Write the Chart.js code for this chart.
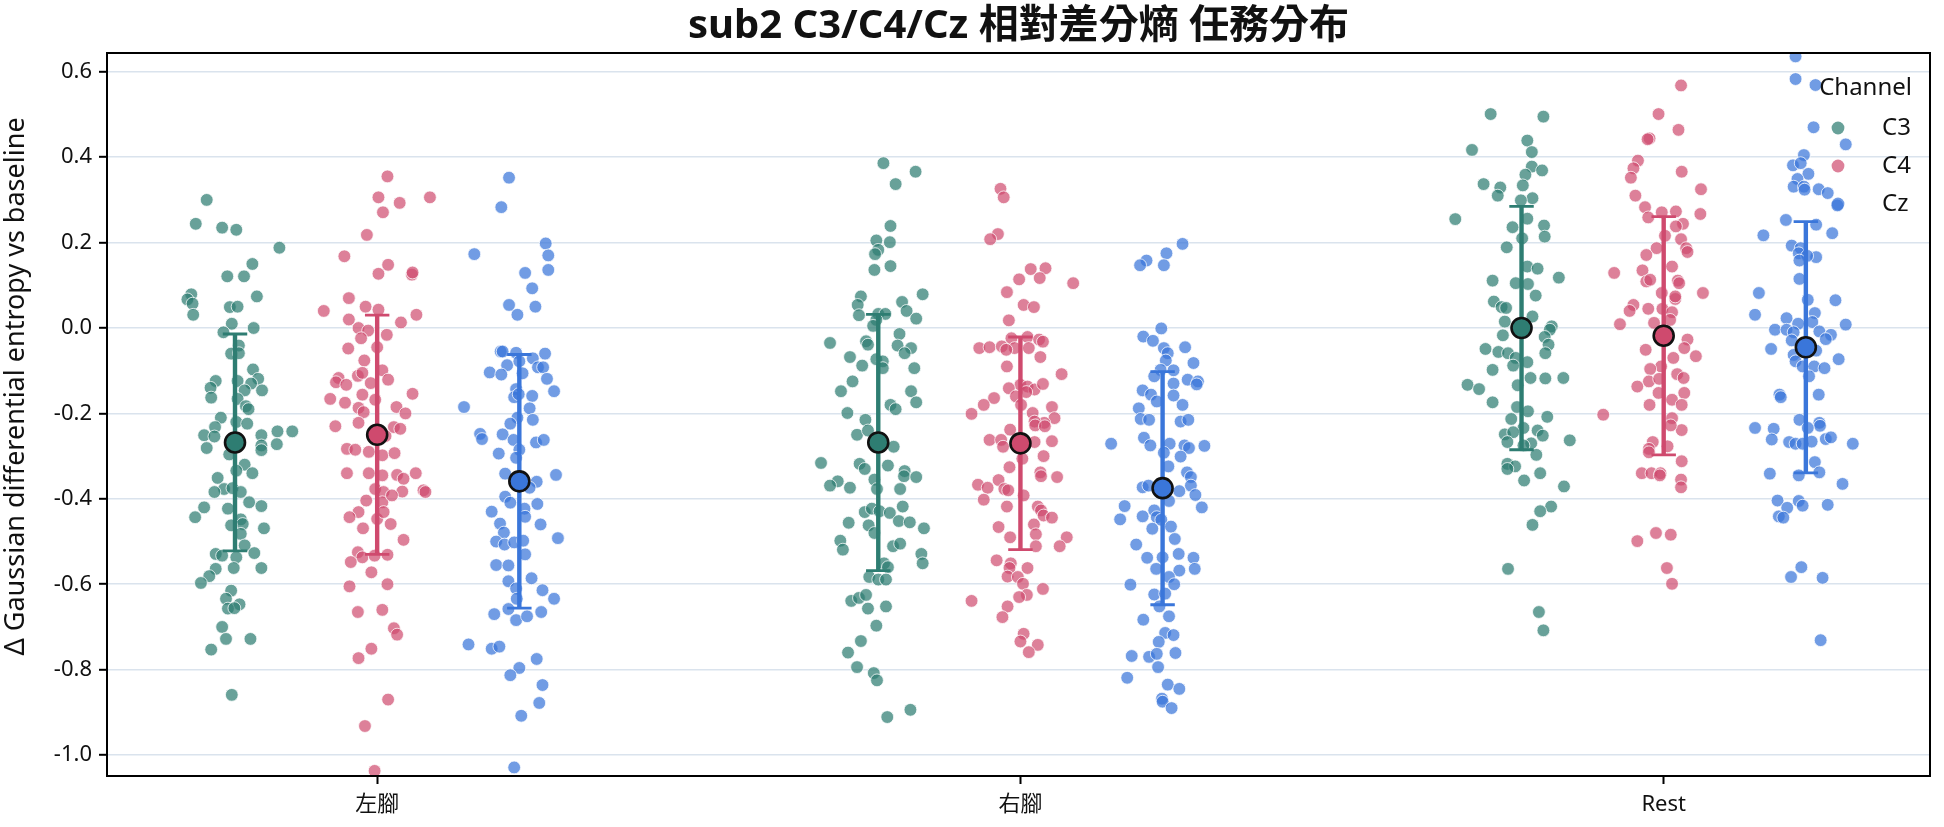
<!DOCTYPE html>
<html>
<head>
<meta charset="utf-8">
<script src="https://cdn.jsdelivr.net/npm/chart.js@4.4.1/dist/chart.umd.min.js"></script>
<style>
    html, body { margin: 0; padding: 0; background: #fff; }
    #wrap { width: 1944px; height: 827px; }
</style>
</head>
<body>
<div id="wrap"><canvas id="Strip" width="1944" height="827"></canvas></div>
<script>
const categories = ["左腳", "右腳", "Rest"]; // Eje X
const channels = ["C3", "C4", "Cz"];
const yTicks = [-1.0, -0.8, -0.6, -0.4, -0.2, 0.0, 0.2, 0.4, 0.6];
const title = "sub2 C3/C4/Cz 相對差分熵 任務分布";
const yLabel = "Δ Gaussian differential entropy vs baseline";

// media y desviación estándar por categoría (左腳, 右腳, Rest)
const meanC3 = [-0.268, -0.268, 0.000];
const sdC3 = [0.254, 0.300, 0.285];
const meanC4 = [-0.250, -0.270, -0.018];
const sdC4 = [0.280, 0.249, 0.279];
const meanCz = [-0.359, -0.375, -0.045];
const sdCz = [0.297, 0.273, 0.294];

// puntos: [jitter, valor]
const ptsLeftC3 = [[-0.044,0.30],[-0.061,0.244],[-0.020,0.235],[0.002,0.23],[0.069,0.188],[0.027,0.15],[-0.012,0.121],[0.014,0.121],[0.034,0.074],[-0.068,0.079],[-0.074,0.067],[-0.066,0.057],[-0.065,0.031],[-0.008,0.049],[0.004,0.05],[-0.005,0.01],[0.029,0.0],[-0.018,-0.01],[0.006,-0.041],[-0.006,-0.06],[0.006,-0.059],[0.028,-0.097],[0.036,-0.119],[-0.03,-0.124],[0.004,-0.124],[-0.038,-0.14],[0.025,-0.13],[0.015,-0.146],[0.042,-0.146],[-0.037,-0.163],[0.004,-0.166],[0.017,-0.183],[0.021,-0.19],[-0.022,-0.21],[0.002,-0.22],[0.019,-0.224],[-0.031,-0.232],[-0.048,-0.251],[-0.032,-0.254],[0.041,-0.251],[0.066,-0.242],[0.089,-0.242],[-0.044,-0.281],[-0.009,-0.296],[0.041,-0.275],[0.065,-0.272],[0.041,-0.286],[0.015,-0.32],
    [0.002,-0.334],[0.027,-0.34],[-0.027,-0.351],[-0.017,-0.377],[-0.004,-0.375],[-0.032,-0.384],[0.009,-0.384],[0.022,-0.408],[0.041,-0.417],[-0.048,-0.42],[-0.062,-0.443],[-0.011,-0.423],[0.009,-0.448],[0.012,-0.459],[-0.006,-0.462],[0.045,-0.469],[0.009,-0.482],[0.015,-0.509],[-0.03,-0.529],[-0.02,-0.533],[0.002,-0.537],[0.03,-0.527],[-0.03,-0.564],[-0.002,-0.562],[0.041,-0.562],[-0.04,-0.581],[-0.053,-0.597],[-0.006,-0.615],[-0.014,-0.634],[0.007,-0.647],[-0.011,-0.657],[-0.001,-0.656],[-0.02,-0.7],[-0.014,-0.728],[0.024,-0.728],[-0.037,-0.753],[-0.005,-0.859]];
const ptsRightC3 = [[0.008,0.386],[0.058,0.366],[0.027,0.337],[0.019,0.239],[-0.003,0.205],[0.018,0.201],[0,0.183],[-0.005,0.173],[-0.006,0.136],[0.019,0.145],[-0.027,0.074],[-0.032,0.054],[0.069,0.079],[0.037,0.061],[-0.03,0.03],[0.044,0.04],[0.059,0.022],[0,0.033],[0.011,0.033],[-0.003,0.019],[-0.008,0.005],[0.033,-0.014],[-0.075,-0.035],[-0.019,-0.031],[-0.016,-0.039],[0.03,-0.041],[0.051,-0.047],[0.041,-0.059],[-0.044,-0.068],[-0.003,-0.073],[0.007,-0.078],[-0.025,-0.088],[0.007,-0.094],[0.056,-0.094],[-0.04,-0.125],[-0.058,-0.148],[0.051,-0.148],[0.059,-0.174],[0.019,-0.18],[0.027,-0.19],[-0.048,-0.199],[-0.02,-0.215],
    [-0.033,-0.25],[-0.016,-0.24],[0.024,-0.278],[-0.089,-0.316],[-0.029,-0.318],[-0.021,-0.33],[0.015,-0.322],[0.041,-0.335],[0.04,-0.347],[0.059,-0.349],[-0.063,-0.359],[-0.075,-0.369],[-0.044,-0.374],[-0.006,-0.355],[-0.002,-0.377],[0.034,-0.377],[0.038,-0.418],[-0.021,-0.431],[-0.01,-0.423],[0.002,-0.429],[0.018,-0.433],[-0.046,-0.456],[-0.015,-0.462],[0.032,-0.452],[0.049,-0.455],[0.071,-0.469],[-0.006,-0.48],[-0.059,-0.498],[-0.055,-0.519],[0.023,-0.511],[0.034,-0.505],[0.067,-0.529],[0.069,-0.551],[0.009,-0.551],[0.015,-0.56],[-0.014,-0.583],[0,-0.589],[0.012,-0.589],[-0.042,-0.639],[-0.03,-0.632],[-0.019,-0.625],[-0.016,-0.657],[0.012,-0.652],[-0.003,-0.697],[-0.027,-0.733],[-0.047,-0.76],[-0.033,-0.794],[-0.007,-0.808],[-0.002,-0.825],[0.05,-0.894],[0.014,-0.911]];
const ptsRestC3 = [[-0.048,0.501],[0.034,0.495],[0.009,0.439],[-0.077,0.417],[0.016,0.412],[0.016,0.378],[0.032,0.369],[0.006,0.359],[-0.059,0.337],[-0.033,0.329],[-0.037,0.31],[0.002,0.334],[0.017,0.304],[-0.001,0.299],[-0.103,0.255],[0.009,0.256],[-0.014,0.236],[0.035,0.24],[0.001,0.21],[0.036,0.214],[-0.023,0.189],[0.009,0.144],[0.025,0.139],[-0.045,0.111],[-0.009,0.105],[0.01,0.103],[0.058,0.118],[0.022,0.076],[-0.043,0.062],[-0.031,0.049],[-0.024,0.047],[0.017,0.027],[-0.026,0.015],[0.047,0.004],[0.044,-0.004],[-0.029,-0.017],[0.036,-0.021],[0.042,-0.039],[-0.056,-0.049],[-0.036,-0.056],[-0.021,-0.059],[0.037,-0.059],[-0.009,-0.07],[0.009,-0.08],[-0.013,-0.088],[-0.045,-0.098],[0.014,-0.117],[0.037,-0.118],[0.065,-0.117],[-0.084,-0.133],[-0.066,-0.143],[-0.006,-0.134],[-0.045,-0.174],[-0.007,-0.185],[0.01,-0.195],[-0.016,-0.213],[0.04,-0.208],
    [0.003,-0.234],[-0.026,-0.249],[-0.013,-0.244],[0.025,-0.24],[0.033,-0.252],[-0.022,-0.267],[0.015,-0.27],[0.075,-0.263],[0.003,-0.275],[0.023,-0.297],[-0.022,-0.318],[-0.01,-0.324],[-0.022,-0.33],[0.029,-0.34],[0.004,-0.357],[0.066,-0.371],[0.046,-0.418],[0.029,-0.429],[0.017,-0.461],[-0.021,-0.564],[0.027,-0.665],[0.034,-0.708]];

const ptsLeftC4 = [[0.016,0.355],[0.002,0.306],[0.035,0.293],[0.082,0.306],[0.009,0.271],[-0.016,0.218],[-0.051,0.168],[0.017,0.148],[0.002,0.127],[0.054,0.125],[0.055,0.13],[-0.044,0.07],[-0.018,0.05],[0.002,0.043],[-0.083,0.04],[0.061,0.031],[-0.044,0.02],[0.037,0.013],[-0.029,0.0],[-0.014,-0.006],[-0.025,-0.024],[0.015,-0.016],[-0.045,-0.048],[0,-0.045],[-0.02,-0.076],[-0.06,-0.117],[-0.064,-0.127],[-0.048,-0.133],[-0.03,-0.112],[-0.023,-0.105],[0.008,-0.099],[0.017,-0.121],[-0.01,-0.129],[-0.023,-0.156],[-0.003,-0.168],[0.055,-0.154],[-0.073,-0.166],[-0.05,-0.175],[-0.029,-0.187],[-0.021,-0.197],[0.03,-0.185],[0.044,-0.2],[-0.029,-0.222],[-0.065,-0.23],[0.026,-0.232],[0.036,-0.236],[0.013,-0.253],[-0.047,-0.283],[-0.034,-0.285],[-0.013,-0.29],[0.008,-0.298],[0.027,-0.293],[-0.047,-0.34],[-0.013,-0.34],[0.06,-0.34],
    [0.008,-0.345],[0.031,-0.344],[0.041,-0.353],[-0.003,-0.377],[0.01,-0.384],[0.039,-0.383],[0.072,-0.38],[0.075,-0.384],[-0.017,-0.404],[0.008,-0.408],[0.023,-0.392],[-0.029,-0.431],[-0.043,-0.443],[0,-0.447],[0.01,-0.431],[-0.022,-0.469],[0.021,-0.459],[0.041,-0.496],[-0.03,-0.525],[-0.023,-0.537],[-0.004,-0.533],[0.016,-0.531],[-0.041,-0.548],[-0.009,-0.572],[-0.043,-0.605],[0.016,-0.6],[-0.03,-0.665],[0.008,-0.66],[0.026,-0.703],[0.031,-0.718],[-0.009,-0.751],[-0.029,-0.773],[0.017,-0.87],[-0.019,-0.932],[-0.004,-1.037]];
const ptsRightC4 = [[-0.031,0.326],[-0.026,0.306],[-0.035,0.22],[-0.047,0.208],[0.016,0.138],[0.039,0.14],[-0.002,0.114],[0.03,0.117],[0.082,0.105],[-0.021,0.084],[0.005,0.054],[0.021,0.049],[-0.018,0.018],[-0.014,-0.024],[0.011,-0.021],[0.029,-0.027],[0.035,-0.032],[-0.064,-0.047],[-0.048,-0.045],[-0.029,-0.043],[-0.009,-0.047],[-0.022,-0.051],[0.013,-0.047],[0.031,-0.068],[-0.021,-0.09],[0.064,-0.108],[0,-0.133],[0.011,-0.137],[-0.018,-0.141],[0.022,-0.144],[0.035,-0.131],[0.009,-0.15],[-0.007,-0.16],[-0.041,-0.164],[-0.057,-0.18],[-0.076,-0.201],[0.001,-0.18],[0.049,-0.185],[0.019,-0.199],[0.053,-0.211],[0.037,-0.222],[0.022,-0.219],
    [0.023,-0.228],[0.038,-0.23],[-0.016,-0.238],[-0.048,-0.262],[-0.03,-0.262],[-0.027,-0.278],[0.022,-0.267],[0.049,-0.265],[0.036,-0.3],[0.003,-0.306],[-0.017,-0.326],[0.031,-0.338],[0.032,-0.347],[0.057,-0.349],[-0.034,-0.356],[-0.066,-0.367],[-0.051,-0.374],[-0.025,-0.377],[-0.019,-0.38],[0.005,-0.392],[-0.057,-0.402],[-0.021,-0.418],[0.027,-0.418],[0.032,-0.427],[0.036,-0.439],[0.049,-0.444],[0.021,-0.46],[-0.034,-0.466],[0.024,-0.483],[-0.016,-0.49],[0.072,-0.49],[0.061,-0.511],[0.024,-0.511],[-0.037,-0.544],[-0.015,-0.551],[0.011,-0.562],[-0.017,-0.562],[-0.02,-0.582],[-0.004,-0.583],[0.004,-0.599],[0.035,-0.611],[0.01,-0.625],[-0.002,-0.63],[-0.076,-0.639],[-0.02,-0.652],[-0.028,-0.677],[0.005,-0.716],[0,-0.734],[0.027,-0.742],[0.013,-0.759]];
const ptsRestC4 = [[0.027,0.568],[-0.008,0.501],[0.023,0.464],[-0.022,0.444],[-0.025,0.442],[-0.04,0.392],[-0.047,0.374],[0.028,0.366],[-0.051,0.352],[0.058,0.325],[-0.044,0.31],[-0.029,0.283],[-0.024,0.259],[-0.003,0.271],[0.019,0.273],[0.057,0.267],[0.03,0.244],[0.019,0.238],[0.002,0.216],[0.027,0.208],[0.035,0.187],[0.037,0.178],[-0.011,0.187],[-0.027,0.171],[0.013,0.144],[-0.077,0.129],[-0.033,0.135],[-0.027,0.109],[-0.021,0.113],[0.022,0.111],[0.024,0.105],[0.061,0.082],[-0.003,0.082],[0.018,0.068],[0.018,0.074],[-0.047,0.054],[-0.053,0.04],[-0.024,0.045],[-0.002,0.045],[0.013,0.037],[-0.068,0.009],[-0.015,0.012],[0.01,0.019],[0.037,-0.027],[-0.028,-0.051],[0.032,-0.047],[0.05,-0.066],[0.015,-0.07],[-0.004,-0.09],[-0.021,-0.096],[0.021,-0.108],[-0.023,-0.125],[-0.007,-0.119],[0.031,-0.117],[-0.041,-0.137],[-0.008,-0.152],[0.032,-0.152],[0.013,-0.168],[-0.022,-0.18],[0.028,-0.18],[-0.094,-0.203],[0.013,-0.211],
    [0.028,-0.239],[0.011,-0.228],[-0.017,-0.267],[0.006,-0.277],[-0.023,-0.283],[-0.023,-0.291],[0.028,-0.312],[-0.034,-0.34],[-0.019,-0.34],[-0.005,-0.34],[-0.006,-0.345],[0.027,-0.355],[0.027,-0.373],[-0.041,-0.499],[-0.012,-0.48],[0.011,-0.484],[0.005,-0.562],[0.013,-0.599]];

const ptsLeftCz = [[-0.016,0.352],[-0.028,0.283],[0.041,0.198],[-0.07,0.173],[0.045,0.17],[0.045,0.136],[0.009,0.129],[0.02,0.093],[-0.016,0.054],[-0.003,0.031],[0.025,0.05],[-0.029,-0.055],[-0.026,-0.055],[-0.005,-0.058],[0.04,-0.06],[0.021,-0.071],[-0.019,-0.087],[0,-0.078],[-0.046,-0.104],[-0.028,-0.109],[0.005,-0.106],[0.029,-0.092],[0.037,-0.092],[0.043,-0.119],[0.054,-0.148],[-0.005,-0.143],[-0.008,-0.162],[0.02,-0.159],[-0.001,-0.155],[-0.086,-0.185],[0.016,-0.188],[-0.003,-0.21],[0.021,-0.215],[-0.014,-0.224],[-0.061,-0.248],[-0.058,-0.26],[-0.026,-0.249],[-0.009,-0.262],[0.026,-0.268],[0.038,-0.262],[0,-0.285],[-0.032,-0.294],[-0.005,-0.304],[-0.022,-0.341],[0.057,-0.344],[0.027,-0.36],[0.016,-0.374],[-0.022,-0.395],[-0.014,-0.409],[0.028,-0.412],[0.008,-0.423],[0.009,-0.442],[-0.043,-0.43],[0.033,-0.46],[-0.03,-0.458],[-0.024,-0.479],[0.06,-0.492],[-0.036,-0.5],[-0.023,-0.507],[-0.008,-0.502],[0.006,-0.498],[0.009,-0.53],[-0.036,-0.555],[-0.017,-0.556],[0.019,-0.586],[-0.017,-0.593],[-0.005,-0.61],[0.036,-0.614],[0.054,-0.634],[-0.004,-0.634],[-0.017,-0.658],[-0.039,-0.67],[-0.005,-0.684],[0.012,-0.675],[0.034,-0.665],[-0.079,-0.741],[-0.043,-0.751],[-0.031,-0.746],[0,-0.796],[-0.014,-0.813],[0.027,-0.775],[0.036,-0.836],[0.031,-0.878],[0.003,-0.908],[-0.008,-1.029]];
const ptsRightCz = [[0.031,0.197],[0.006,0.175],[-0.025,0.158],[-0.035,0.147],[0.002,0.147],[-0.002,-0.001],[-0.03,-0.02],[-0.015,-0.03],[0.002,-0.047],[0.035,-0.045],[0.008,-0.059],[0.005,-0.076],[0.048,-0.082],[-0.003,-0.098],[0.017,-0.099],[-0.013,-0.113],[0.039,-0.121],[0.055,-0.125],[0.053,-0.132],[0.017,-0.13],[-0.031,-0.146],[-0.018,-0.156],[0.017,-0.158],[-0.009,-0.172],[-0.037,-0.188],[0.031,-0.18],[-0.034,-0.213],[-0.021,-0.215],[0.028,-0.219],[0.04,-0.215],
    [-0.08,-0.271],[-0.029,-0.257],[-0.019,-0.275],[0.011,-0.271],[0.034,-0.275],[0.041,-0.281],[0.065,-0.276],[0.002,-0.292],[0.028,-0.301],[0.009,-0.324],[0.038,-0.338],[0.044,-0.349],[0.044,-0.369],[-0.031,-0.373],[-0.022,-0.369],[0.026,-0.382],[0.051,-0.391],[0.01,-0.405],[0.061,-0.42],[-0.059,-0.417],[-0.066,-0.448],[-0.031,-0.441],[-0.013,-0.427],[-0.009,-0.443],[-0.002,-0.449],[-0.016,-0.47],[0.013,-0.465],[0.019,-0.494],[-0.041,-0.507],[-0.024,-0.538],[0,-0.537],[0.025,-0.529],[0.048,-0.538],[0.05,-0.564],[-0.01,-0.564],[0.026,-0.568],[0.01,-0.583],[0.018,-0.6],[-0.05,-0.601],[-0.013,-0.624],[0.004,-0.622],[-0.005,-0.652],[0.01,-0.675],[-0.03,-0.683],[0.004,-0.714],[0.017,-0.719],[-0.006,-0.735],[0.02,-0.761],[-0.048,-0.768],[-0.021,-0.77],[-0.009,-0.763],[-0.007,-0.794],[-0.055,-0.819],[0.008,-0.835],[0.026,-0.845],[-0.001,-0.868],[0,-0.875],[0.014,-0.89]];
const ptsRestCz = [[-0.016,0.636],[-0.016,0.583],[0.015,0.569],[0.012,0.47],[0.062,0.43],[-0.003,0.405],[-0.02,0.381],[-0.008,0.386],[0.004,0.361],[-0.013,0.349],[-0.019,0.331],[-0.003,0.331],[-0.002,0.324],[0.02,0.325],[0.034,0.316],[0.049,0.287],[-0.031,0.253],[0.016,0.242],[0.041,0.222],[-0.066,0.217],[-0.022,0.193],[-0.008,0.187],[-0.011,0.175],[0.016,0.166],[0.002,0.169],[-0.01,0.158],[-0.01,0.115],[-0.073,0.082],[0.003,0.066],[0.046,0.065],[-0.079,0.031],[0.014,0.035],[-0.03,0.023],[0.01,0.014],[-0.012,0.01],[0.062,0.008],[-0.048,-0.004],[-0.03,-0.004],[-0.019,-0.01],[0.021,-0.008],[0.039,-0.016],[0.031,-0.026],[-0.022,-0.029],[-0.054,-0.049],[-0.019,-0.063],[0.016,-0.053],[0.051,-0.073],[-0.016,-0.078],[-0.005,-0.09],[0.013,-0.09],[0.029,-0.094],[0.005,-0.113],[-0.041,-0.156],[-0.039,-0.162],[0.02,-0.156],[-0.01,-0.215],[0.021,-0.222],
    [-0.079,-0.234],[-0.05,-0.236],[0.022,-0.229],[0.003,-0.234],[-0.053,-0.261],[-0.026,-0.267],[-0.016,-0.271],[-0.005,-0.271],[0.009,-0.266],[0.031,-0.26],[0.039,-0.256],[0.073,-0.271],[0.014,-0.314],[-0.056,-0.341],[-0.011,-0.345],[0.021,-0.338],[0.057,-0.365],[-0.044,-0.404],[-0.011,-0.405],[-0.005,-0.416],[0.034,-0.414],[-0.029,-0.421],[-0.042,-0.441],[-0.035,-0.444],[-0.007,-0.56],[-0.023,-0.583],[0.026,-0.585],[0.023,-0.731]];

// estilos
const solid = { C3: 'rgb(46,125,114)', C4: 'rgb(207,74,110)', Cz: 'rgb(58,118,218)' };
const faded = { C3: 'rgba(46,125,114,0.72)', C4: 'rgba(207,74,110,0.7)', Cz: 'rgba(58,118,218,0.72)' };
const dodge = { C3: -0.221, C4: 0, Cz: 0.221 };
const capHalf = 0.019;
const fontFamily = "'Noto Sans', 'Noto Sans CJK TC', sans-serif";

const pointsByChannel = {
    C3: [ptsLeftC3, ptsRightC3, ptsRestC3],
    C4: [ptsLeftC4, ptsRightC4, ptsRestC4],
    Cz: [ptsLeftCz, ptsRightCz, ptsRestCz]
};
const meanByChannel = { C3: meanC3, C4: meanC4, Cz: meanCz };
const sdByChannel = { C3: sdC3, C4: sdC4, Cz: sdCz };

function buildDatasets() {
    const sets = [];
    channels.forEach(ch => {
        const pts = [];
        pointsByChannel[ch].forEach((group, i) => {
            group.forEach(p => pts.push({ x: i + dodge[ch] + p[0], y: p[1] }));
        });
        sets.push({
            type: 'scatter', label: ch, data: pts, order: 3,
            backgroundColor: faded[ch], borderColor: 'rgba(255,255,255,0.85)',
            borderWidth: 0.9, pointRadius: 6.4
        });
    });
    channels.forEach(ch => {
        const stem = [], caps = [];
        meanByChannel[ch].forEach((m, i) => {
            const x = i + dodge[ch], s = sdByChannel[ch][i];
            stem.push({ x: x, y: m - s }, { x: x, y: m + s }, { x: x, y: null });
            caps.push({ x: x - capHalf, y: m - s }, { x: x + capHalf, y: m - s }, { x: x, y: null });
            caps.push({ x: x - capHalf, y: m + s }, { x: x + capHalf, y: m + s }, { x: x, y: null });
        });
        sets.push({ type: 'line', data: stem, order: 2, borderColor: solid[ch], borderWidth: 4.4,
            pointRadius: 0, spanGaps: false, fill: false, tension: 0 });
        sets.push({ type: 'line', data: caps, order: 2, borderColor: solid[ch], borderWidth: 2.8,
            pointRadius: 0, spanGaps: false, fill: false, tension: 0 });
    });
    channels.forEach(ch => {
        sets.push({
            type: 'scatter', order: 1,
            data: meanByChannel[ch].map((m, i) => ({ x: i + dodge[ch], y: m })),
            backgroundColor: solid[ch], borderColor: '#111', borderWidth: 2.6, pointRadius: 10
        });
    });
    return sets;
}

// marco y leyenda
const framePlugin = {
    id: 'frame',
    afterDatasetsDraw(chart) {
        const a = chart.chartArea, ctx = chart.ctx;
        ctx.save();
        ctx.strokeStyle = '#000';
        ctx.lineWidth = 2;
        ctx.strokeRect(a.left, a.top, a.right - a.left, a.bottom - a.top);
        ctx.restore();
    },
    afterDraw(chart) {
        const a = chart.chartArea, ctx = chart.ctx;
        ctx.save();
        ctx.font = "24px " + fontFamily;
        ctx.fillStyle = '#111';
        ctx.textBaseline = 'middle';
        ctx.textAlign = 'right';
        ctx.fillText('Channel', a.right - 18, a.top + 35);
        channels.forEach((ch, k) => {
            const y = a.top + 75 + k * 38;
            ctx.beginPath();
            ctx.arc(a.right - 92, y, 6.4, 0, Math.PI * 2);
            ctx.fillStyle = faded[ch];
            ctx.fill();
            ctx.fillStyle = '#111';
            ctx.textAlign = 'left';
            ctx.fillText(ch, a.right - 48, y);
        });
        ctx.restore();
    }
};

function fnStrip() {
    const canvas = document.querySelector("#Strip");
    new Chart(canvas, {
        type: 'scatter',
        data: { datasets: buildDatasets() },
        options: {
            responsive: false,
            animation: false,
            devicePixelRatio: 1,
            events: [],
            layout: { padding: { left: 0, right: 14, top: 0, bottom: 0 } },
            plugins: {
                legend: { display: false },
                tooltip: { enabled: false },
                title: {
                    display: true, text: title, fullSize: false, color: '#111',
                    font: { size: 40, weight: 'bold', family: fontFamily, lineHeight: 1.0 },
                    padding: { top: 7, bottom: 6 }
                }
            },
            scales: {
                x: {
                    type: 'linear', min: -0.42, max: 2.414,
                    afterBuildTicks: axis => { axis.ticks = categories.map((c, i) => ({ value: i })); },
                    afterFit: axis => { axis.height = 51; },
                    ticks: {
                        callback: v => categories[v], color: '#111', padding: 8,
                        font: { size: 22, family: fontFamily }, maxRotation: 0
                    },
                    grid: { drawOnChartArea: false, drawTicks: true, tickLength: 8, tickColor: '#000', tickWidth: 2 },
                    border: { display: false }
                },
                y: {
                    min: -1.049, max: 0.644,
                    afterBuildTicks: axis => { axis.ticks = yTicks.map(v => ({ value: v })); },
                    afterFit: axis => { axis.width = 107; },
                    ticks: {
                        callback: v => v.toFixed(1), color: '#111', padding: 7,
                        font: { size: 22, family: fontFamily }
                    },
                    grid: { color: '#dae3ed', lineWidth: 1.6, tickLength: 8, tickColor: '#000', tickWidth: 2 },
                    border: { display: false },
                    title: {
                        display: true, text: "        " + yLabel, color: '#111',
                        font: { size: 27, family: fontFamily, lineHeight: 1.15 },
                        padding: { top: 1, bottom: 0 }
                    }
                }
            }
        },
        plugins: [framePlugin]
    });
}

fnStrip();
</script>
</body>
</html>
